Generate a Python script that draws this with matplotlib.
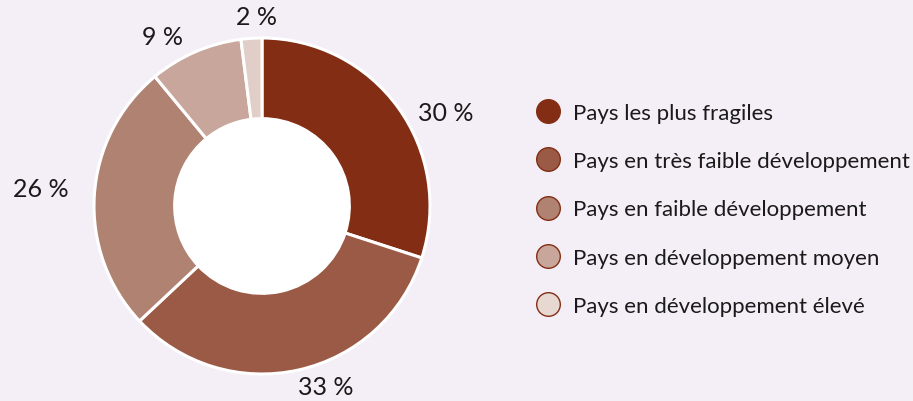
import numpy as np
import matplotlib
matplotlib.use("Agg")
import matplotlib.pyplot as plt
from matplotlib.lines import Line2D

plt.rcParams['font.family'] = ['Lato', 'DejaVu Sans']

categories = ['Pays les plus fragiles', 'Pays en très faible développement',
              'Pays en faible développement', 'Pays en développement moyen',
              'Pays en développement élevé']
values = [30, 33, 26, 9, 2]
colors = ['#832e14', '#9b5a45', '#b08272', '#c9a69c', '#e2cec8']
legend_fill = ['#832e14', '#9b5a45', '#b08272', '#c9a69c', '#e8d8d2']

# label placement tweaks (degrees offset from wedge middle, radius in pie units)
label_shift = [-9, 7, -1, 7, -2]
label_rad = [1.23, 1.14, 1.32, 1.17, 1.13]

bg = '#f4eff7'
fig = plt.figure(figsize=(9.13, 4.02), dpi=100)
fig.patch.set_facecolor(bg)

W, H = 913, 402
cx, cy, R = 262, 402 - 207, 168
half = 1.4 * R
ax = fig.add_axes([(cx - half) / W, (cy - half) / H, 2 * half / W, 2 * half / H])

wedges, _ = ax.pie(values, colors=colors, startangle=90, counterclock=False,
                   radius=1.0, wedgeprops=dict(width=0.48, edgecolor='white', linewidth=2.2))
hole = plt.Circle((0, 0), 0.52, color='white', zorder=3)
ax.add_patch(hole)
ax.set_xlim(-1.4, 1.4)
ax.set_ylim(-1.4, 1.4)
ax.set_aspect('equal')
ax.axis('off')

total = sum(values)
cum = np.cumsum(values)
for v, c, sh, r in zip(values, cum, label_shift, label_rad):
    mid = 90 - 360 * (c - v / 2) / total
    ang = np.deg2rad(mid + sh)
    ax.text(r * np.cos(ang), r * np.sin(ang), f'{v} %', ha='center', va='center',
            fontsize=18, color='#1a1a1a')

handles = [Line2D([], [], marker='o', linestyle='none', markersize=17,
                  markerfacecolor=c, markeredgecolor='#832e14', markeredgewidth=1.0)
           for c in legend_fill]
leg = fig.legend(handles, categories, loc='upper left', bbox_to_anchor=(537 / W, 1 - 104 / H),
                 frameon=False, fontsize=16, labelspacing=1.27, handletextpad=0.63,
                 handlelength=1.0, borderpad=0, borderaxespad=0)
for t in leg.get_texts():
    t.set_color('#1a1a1a')

fig.savefig('out.png', dpi=100, facecolor=bg)
